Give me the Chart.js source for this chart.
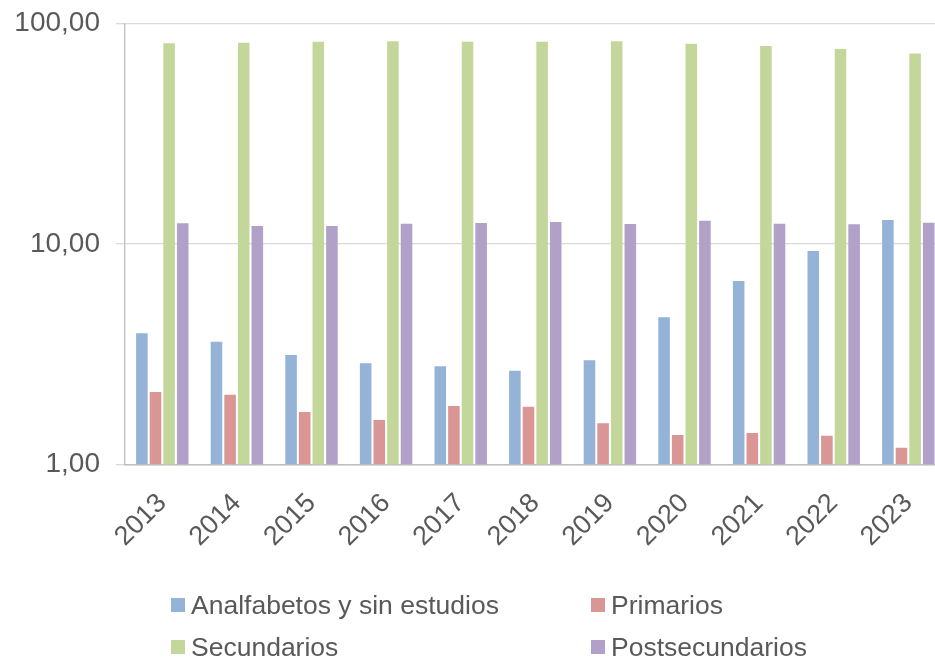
<!DOCTYPE html>
<html>
<head>
<meta charset="utf-8">
<script src="https://cdn.jsdelivr.net/npm/chart.js@4/dist/chart.umd.min.js"></script>
<style>
  html, body { margin: 0; padding: 0; background: #fff; overflow: hidden; }
  #wrap { position: relative; width: 935px; height: 660px; overflow: hidden; }
  #chart { position: absolute; left: 0; top: 0; }
  .leg { position: absolute; height: 30px; line-height: 30px; font-family: "Liberation Sans", Arial, sans-serif;
         font-size: 26.5px; color: #595959; white-space: nowrap; }
  .leg span.box { position: absolute; left: 0; top: 8px; width: 14px; height: 14px; }
  .leg span.txt { position: absolute; left: 20px; top: 0; }
</style>
</head>
<body>
<div id="wrap">
  <canvas id="chart" width="960" height="660"></canvas>
</div>
<script>
// categories and series (log scale, values in %)
const years = ["2013", "2014", "2015", "2016", "2017", "2018", "2019", "2020", "2021", "2022", "2023"];

const analfabetos = [3.94, 3.60, 3.14, 2.88, 2.79, 2.66, 2.97, 4.65, 6.80, 9.30, 12.85];
const primarios = [2.13, 2.07, 1.73, 1.59, 1.84, 1.83, 1.54, 1.36, 1.39, 1.35, 1.19];
const secundarios = [81.3, 81.8, 82.7, 83.0, 82.7, 82.7, 83.0, 81.0, 79.1, 76.6, 73.2];
const postsecundarios = [12.41, 12.07, 12.07, 12.36, 12.45, 12.58, 12.32, 12.76, 12.36, 12.28, 12.50];

const seriesNames = ["Analfabetos y sin estudios", "Primarios", "Secundarios", "Postsecundarios"];
const seriesColors = ["#95B3D7", "#DA9694", "#C4D79B", "#B1A0C7"];

const yTicks = [1, 10, 100];
const yTickLabels = ["1,00", "10,00", "100,00"];

const font = "'Liberation Sans', Arial, sans-serif";
const textColor = "#595959";

const seriesData = [analfabetos, primarios, secundarios, postsecundarios];

const ctx = document.getElementById('chart').getContext('2d');
const chart = new Chart(ctx, {
    type: 'bar',
    data: {
        labels: years,
        datasets: seriesData.map((d, i) => ({
            label: seriesNames[i],
            data: d,
            backgroundColor: seriesColors[i],
            borderWidth: 0,
            categoryPercentage: 0.73,
            barPercentage: 0.85
        }))
    },
    options: {
        responsive: false,
        animation: false,
        layout: { padding: { left: 0, right: 14.4, top: 23.5, bottom: 0 } },
        plugins: {
            legend: { display: false },
            tooltip: { enabled: false }
        },
        scales: {
            x: {
                grid: { display: false },
                border: { display: true, color: '#BFBFBF', width: 1.5 },
                ticks: {
                    font: { family: font, size: 27 },
                    color: textColor,
                    minRotation: 45,
                    maxRotation: 45,
                    padding: 15
                },
                afterFit: (scale) => {
                    scale.height = 195.5;
                    scale.paddingLeft = 0;
                    scale.paddingRight = 0;
                }
            },
            y: {
                type: 'logarithmic',
                min: 1,
                max: 100,
                grid: { color: '#D9D9D9', lineWidth: 1.3, tickLength: 9, tickColor: '#D9D9D9' },
                border: { display: true, color: '#BFBFBF', width: 1.3 },
                ticks: {
                    font: { family: font, size: 28 },
                    color: textColor,
                    padding: 16,
                    callback: (v) => {
                        const k = yTicks.indexOf(v);
                        return k >= 0 ? yTickLabels[k] : null;
                    }
                },
                afterBuildTicks: (scale) => { scale.ticks = yTicks.map(v => ({ value: v })); },
                afterFit: (scale) => {
                    scale.width = 125;
                    scale.paddingTop = 0;
                    scale.paddingBottom = 0;
                }
            }
        }
    }
});

// two-column legend under the chart
const legendPos = [[171, 590], [591, 590], [171, 632], [591, 632]];
const wrap = document.getElementById('wrap');
chart.data.datasets.forEach((ds, i) => {
    const el = document.createElement('div');
    el.className = 'leg';
    el.style.left = legendPos[i][0] + 'px';
    el.style.top = legendPos[i][1] + 'px';
    el.innerHTML = '<span class="box" style="background:' + ds.backgroundColor + '"></span><span class="txt"></span>';
    el.querySelector('.txt').textContent = ds.label;
    wrap.appendChild(el);
});
</script>
</body>
</html>
